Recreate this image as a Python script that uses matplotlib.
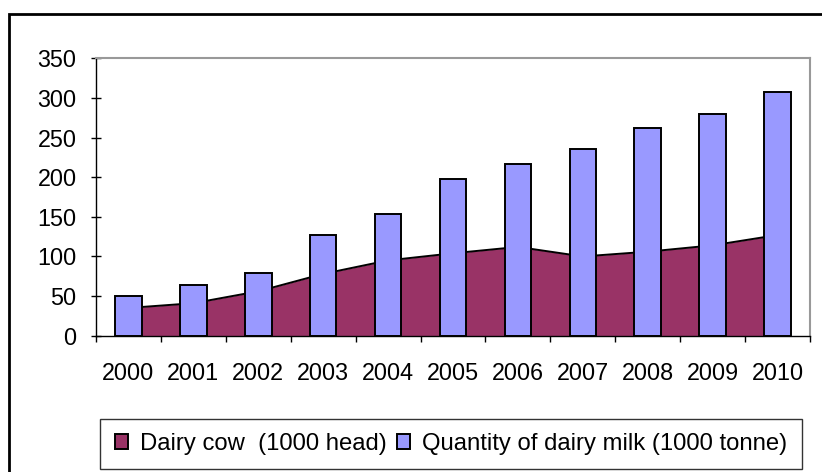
import matplotlib.pyplot as plt
from matplotlib.patches import Rectangle, Patch
import numpy as np

plt.rcParams['font.family'] = ['Liberation Sans', 'DejaVu Sans']

# data
years = ["2000", "2001", "2002", "2003", "2004", "2005",
         "2006", "2007", "2008", "2009", "2010"]
dairy_cow = [35, 41, 56, 78, 95, 104, 112, 100, 106, 114, 127]
dairy_milk = [50, 64, 79, 127, 153, 198, 217, 235, 262, 280, 308]

cow_color = "#993366"
milk_color = "#9999FF"
fs = 16.8

fig = plt.figure(figsize=(8.22, 4.72), dpi=100)
ax = fig.add_axes([96 / 822, 1 - 335.7 / 472, (810 - 96) / 822, (335.7 - 58.3) / 472])

x = np.arange(len(years)) + 0.5

# area (cows) behind the columns (milk)
ax.fill_between(x, dairy_cow, 0, color=cow_color, zorder=1, linewidth=0)
ax.plot(x, dairy_cow, color="black", linewidth=1.4, zorder=1.5)
ax.bar(x, dairy_milk, width=0.41, color=milk_color, edgecolor="black",
       linewidth=1.4, zorder=2)

ax.set_xlim(0, len(years))
ax.set_ylim(0, 350)
ax.set_yticks(range(0, 351, 50))
ax.set_xticks(np.arange(len(years) + 1))
ax.set_xticklabels([])
ax.set_xticks(x, minor=True)
ax.set_xticklabels(years, minor=True)

ax.tick_params(axis="x", which="major", direction="out", length=4, width=1, color="black")
ax.tick_params(axis="x", which="minor", length=0, pad=19, labelsize=fs)
ax.tick_params(axis="y", direction="inout", length=7, width=1, labelsize=fs, pad=10.5)

for side in ["top", "right"]:
    ax.spines[side].set_color("#999999")
    ax.spines[side].set_linewidth(1.5)
for side in ["left", "bottom"]:
    ax.spines[side].set_color("black")
    ax.spines[side].set_linewidth(1)

# legend
handles = [Patch(facecolor=cow_color, edgecolor="black", linewidth=1.4),
           Patch(facecolor=milk_color, edgecolor="black", linewidth=1.4)]
labels = ["Dairy cow  (1000 head)", "Quantity of dairy milk (1000 tonne)"]
leg = fig.legend(handles, labels, loc="center", ncol=2,
                 bbox_to_anchor=(451 / 822, 1 - 444 / 472),
                 fontsize=17.2, frameon=True, fancybox=False,
                 edgecolor="black", handlelength=0.55, handleheight=0.55,
                 handletextpad=0.5, columnspacing=0.45, borderpad=0.6,
                 borderaxespad=0)
leg.get_frame().set_linewidth(1)

# outer border of the chart area
fig.patches.append(Rectangle((9 / 822, -0.05), 1.1, 1 - 14 / 472 + 0.05,
                             transform=fig.transFigure, fill=False,
                             edgecolor="black", linewidth=2))

fig.savefig("out.png", dpi=100)
